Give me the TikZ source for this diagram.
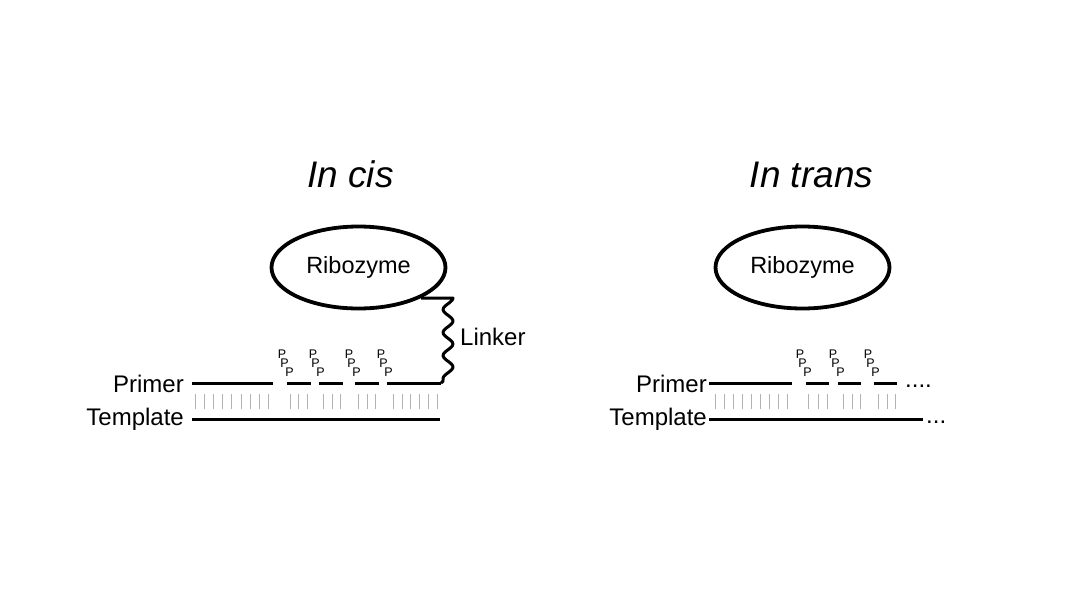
\documentclass[tikz,border=0pt]{standalone}
\usepackage{fontspec}
\setmainfont{Liberation Sans}
\usepackage{xcolor}
\definecolor{pairgray}{RGB}{178,178,178}
\usetikzlibrary{calc, shapes.geometric}
\tikzstyle{Strand} = [line width=3pt]
\tikzstyle{Pair} = [draw=pairgray, line width=0.9pt]
\tikzstyle{Enzyme} = [draw, ellipse, line width=3.8pt,
minimum width=174pt, minimum height=82pt,
font=\fontsize{23.5}{28}\selectfont]
\tikzstyle{Label} = [inner sep=0pt, font=\fontsize{24}{29}\selectfont]
\tikzstyle{Title} = [inner sep=0pt, font=\fontsize{37}{44}\selectfont\itshape]
\tikzstyle{Phos} = [inner sep=0pt, font=\fontsize{12.5}{14}\selectfont]

\begin{document}
\begin{tikzpicture}[x=1pt, y=-1pt]
    \useasboundingbox (0,0) rectangle (1067,600);

    % in cis
    \node[Title, anchor=base] (1) at (350.5,187) {In cis};
    \node[Enzyme] (2) at (358.5,267.5) {Ribozyme};
    \node[Label, anchor=base east] (3) at (184,392) {Primer};
    \node[Label, anchor=base east] (4) at (184,425) {Template};
    \node[Label, anchor=west] (5) at (460,337) {Linker};
    \coordinate (6) at (441,383);

    \foreach \a/\b in {192/273, 287/311, 319/343, 355/379}
        \draw[Strand] (\a,383) -- (\b,383);
    \draw[Strand] (387,383) -- (6);
    \draw[Strand] (192,419) -- (440,419);
    \foreach \x in {195,204,213,222,231,241,250,259,268,
                    290,298,307, 323,332,340, 358,367,375,
                    393,402,410,419,428,437}
        \draw[Pair] (\x,394) -- (\x,409);
    \foreach \x [count=\i] in {282, 313, 349, 381} {
        \node[Phos] (cp\i-1) at (\x,354) {P};
        \node[Phos] (cp\i-2) at (\x+2.5,363.5) {P};
        \node[Phos] (cp\i-3) at (\x+7.5,372.5) {P};
    }
    \draw[Strand, line join=round] (2.-26) -- (453,298)
        -- plot[smooth, domain=0:80, samples=41, variable=\t]
            ({448+5*cos(\t*15.652)}, {298+\t})
        .. controls (443,382) .. (6);

    % in trans
    \node[Title, anchor=base] (7) at (811.5,187) {In trans};
    \node[Enzyme] (8) at (802.5,267.5) {Ribozyme};
    \node[Label, anchor=base east] (9) at (707,392) {Primer};
    \node[Label, anchor=base east] (10) at (707,425) {Template};
    \node[Label, anchor=base west] (11) at (905,387) {....};
    \node[Label, anchor=base west] (12) at (926,423) {...};

    \foreach \a/\b in {709/792, 806/829, 838/861, 874/897}
        \draw[Strand] (\a,383) -- (\b,383);
    \draw[Strand] (709,419) -- (923,419);
    \foreach \x in {715,724,733,742,751,760,769,778,787,
                    808,818,827, 843,852,860, 878,887,895}
        \draw[Pair] (\x,394) -- (\x,409);
    \foreach \x [count=\i] in {800, 833, 868} {
        \node[Phos] (tp\i-1) at (\x,354) {P};
        \node[Phos] (tp\i-2) at (\x+2.5,363.5) {P};
        \node[Phos] (tp\i-3) at (\x+7.5,372.5) {P};
    }
\end{tikzpicture}
\end{document}
